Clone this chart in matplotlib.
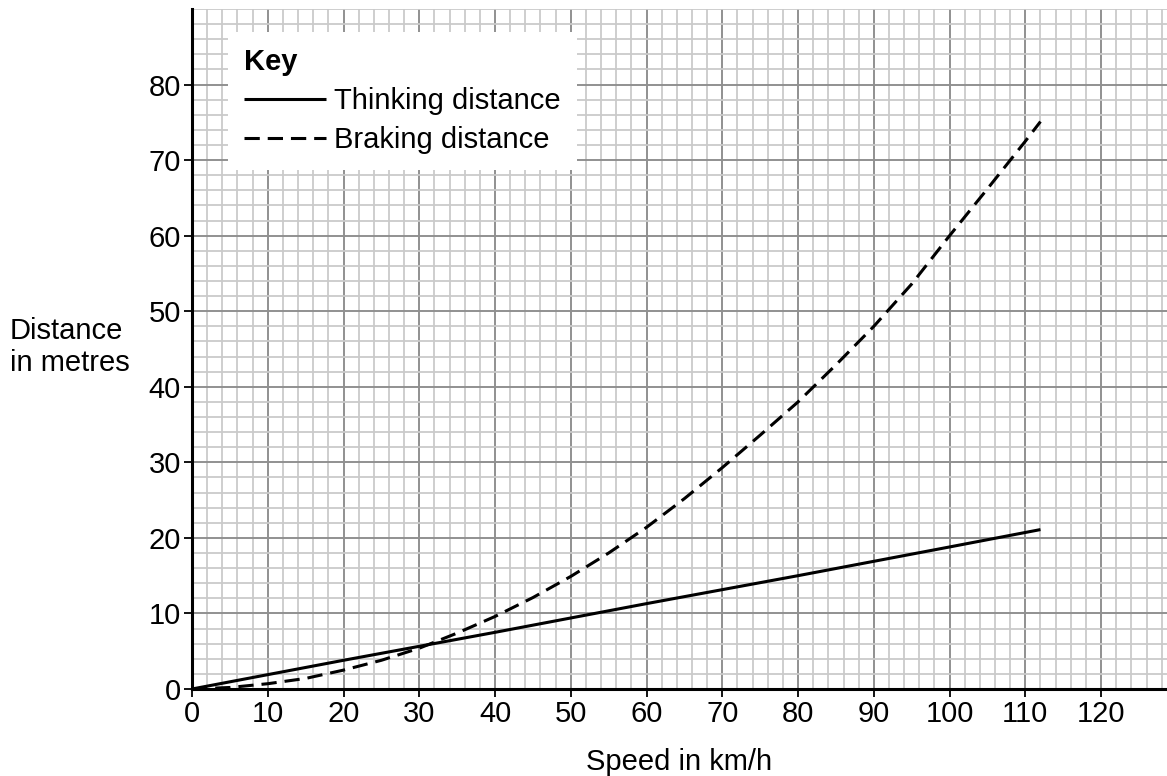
import numpy as np
import matplotlib
matplotlib.use("Agg")
import matplotlib.pyplot as plt
from matplotlib.ticker import MultipleLocator

plt.rcParams['font.family'] = ['Liberation Sans', 'DejaVu Sans']

# speed in km/h and distances in metres
thinking_speed = [0, 20, 40, 60, 80, 100, 112]
thinking_dist = [0, 3.8, 7.5, 11.3, 15.0, 18.8, 21.1]

braking_speed = [0, 5, 10, 15, 20, 25, 30, 35, 40, 45, 50, 55, 60,
                 65, 70, 75, 80, 85, 90, 95, 100, 105, 110, 112]
braking_dist = [0, 0.2, 0.7, 1.4, 2.5, 3.8, 5.4, 7.4, 9.6, 12.1, 14.9, 18.0, 21.4,
                25.2, 29.3, 33.6, 38.0, 42.9, 48.0, 53.6, 60.0, 66.2, 72.5, 75.1]

x_ticks = list(range(0, 121, 10))
y_ticks = list(range(0, 81, 10))

fs = 21

fig = plt.figure(figsize=(11.67, 7.76), dpi=100)
ax = fig.add_axes([192/1167, 87/776, 975/1167, 680/776])

ax.set_xlim(0, 128.7)
ax.set_ylim(0, 90)
ax.xaxis.set_minor_locator(MultipleLocator(2))
ax.yaxis.set_minor_locator(MultipleLocator(2))
ax.set_xticks(x_ticks)
ax.set_yticks(y_ticks)

# graph paper: light minor lines, darker every 10
ax.grid(which='minor', color='#cacaca', lw=1.3)
ax.grid(which='major', color='#909090', lw=1.4)
ax.set_axisbelow(True)

ax.spines['top'].set_visible(False)
ax.spines['right'].set_visible(False)
ax.spines['left'].set_linewidth(2.2)
ax.spines['bottom'].set_linewidth(2.2)
ax.tick_params(which='major', direction='out', length=6, width=1.3, labelsize=fs, pad=2)
ax.tick_params(which='minor', length=0)

ax.plot(thinking_speed, thinking_dist, color='black', lw=2.2, label='Thinking distance',
        solid_capstyle='butt')
ax.plot(braking_speed, braking_dist, color='black', lw=2.2, dashes=(5, 2.6),
        label='Braking distance')

leg = ax.legend(loc='upper left', bbox_to_anchor=(36/975, (689-32)/680), borderaxespad=0,
                title='Key', title_fontproperties={'weight': 'bold', 'size': fs},
                alignment='left', fontsize=fs, frameon=True, fancybox=False,
                edgecolor='none', facecolor='white', framealpha=1,
                handlelength=2.8, handletextpad=0.28, labelspacing=0.38, borderpad=0.55)

ax.set_xlabel('Speed in km/h', fontsize=fs, labelpad=14)
fig.text(10/1167, 1 - 347/776, 'Distance\nin metres', fontsize=fs, ha='left', va='center',
         linespacing=1.2)

fig.savefig('out.png', dpi=100)
